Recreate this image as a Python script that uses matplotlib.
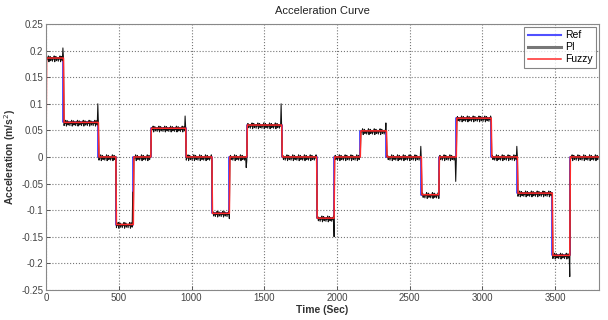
import numpy as np
import matplotlib
matplotlib.use("Agg")
import matplotlib.pyplot as plt

# Reference acceleration profile: step start times (s) and levels (m/s^2)
step_times = [0, 120, 360, 480, 600, 720, 960, 1140, 1260, 1380, 1620, 1860,
              1980, 2160, 2340, 2580, 2700, 2820, 3060, 3240, 3480, 3600]
step_levels = [0.186, 0.065, 0.0, -0.127, 0.0, 0.054, 0.0, -0.106, 0.0, 0.060, 0.0, -0.115,
               0.0, 0.049, 0.0, -0.071, 0.0, 0.073, 0.0, -0.068, -0.185, 0.0]
t_end = 3800

pi_ripple = [0.0, -0.006, 0.001, -0.002, 0.004, -0.007, 0.0, 0.003, -0.005, 0.001]
spike_times = [118, 358, 598, 958, 1262, 1376, 1618, 1982, 2338, 2576, 2818, 3236, 3602]
spike_values = [0.205, 0.100, -0.066, 0.077, -0.116, -0.020, 0.100, -0.150, 0.064, 0.020, -0.046, 0.020, -0.225]

pi_lag = 4
fuzzy_lag = 2

t = np.arange(0, t_end + 1, 4)


def level_at(times):
    idx = np.searchsorted(step_times, times, side="right") - 1
    return np.asarray(step_levels)[np.clip(idx, 0, None)]


# reference as a proper step line
ref_x = np.repeat(step_times + [t_end], 2)[1:-1]
ref_y = np.repeat(step_levels, 2)

pi_y = level_at(t - pi_lag) + np.resize(pi_ripple, len(t))
for st, sv in zip(spike_times, spike_values):
    pi_y[np.argmin(np.abs(t - st))] = sv

fuzzy_y = level_at(t - fuzzy_lag)
fuzzy_y[0] = 0.0

plt.rcParams["font.family"] = ["Liberation Sans", "DejaVu Sans"]

fig = plt.figure(figsize=(6.08, 3.2), dpi=100)
ax = fig.add_axes([0.0757, 0.094, 0.9093, 0.831])

ax.plot(ref_x, ref_y, color="#1f1fff", linewidth=1.1, label="Ref")
ax.plot(t, pi_y, color="#111111", linewidth=0.75, label="PI")
ax.plot(t, fuzzy_y, color="#ff2a2a", linewidth=1.1, label="Fuzzy")

ax.set_xlim(0, t_end)
ax.set_ylim(-0.25, 0.25)
ax.set_xticks([0, 500, 1000, 1500, 2000, 2500, 3000, 3500])
y_ticks = [-0.25, -0.2, -0.15, -0.1, -0.05, 0, 0.05, 0.1, 0.15, 0.2, 0.25]
y_labels = ["-0.25", "-0.2", "-0.15", "-0.1", "-0.05", "0", "0.05", "0.1", "0.15", "0.2", "0.25"]
ax.set_yticks(y_ticks)
ax.set_yticklabels(y_labels)
ax.tick_params(direction="in", labelsize=7, colors="#444444", length=3, width=0.6, pad=2)

ax.grid(True, linestyle=":", color="#777777", linewidth=0.8)
for s in ax.spines.values():
    s.set_color("#888888")
    s.set_linewidth(0.8)

ax.set_title("Acceleration Curve", fontsize=8, color="#222222", pad=7)
ax.set_xlabel("Time (Sec)", fontsize=7.5, color="#333333", fontweight="bold", labelpad=2)
ax.set_ylabel("Acceleration (m/s$^2$)", fontsize=7.5, color="#333333", fontweight="bold", labelpad=2)

leg = ax.legend(loc="upper right", fontsize=7.5, handlelength=3.2, frameon=True, fancybox=False,
                borderpad=0.3, labelspacing=0.2, handletextpad=0.4, borderaxespad=0.3)
leg.get_frame().set_edgecolor("#666666")
leg.get_frame().set_linewidth(0.8)
leg.get_lines()[0].set_color("#5050ff")
leg.get_lines()[0].set_linewidth(1.5)
leg.get_lines()[1].set_color("#777777")
leg.get_lines()[1].set_linewidth(2.2)

fig.savefig("out.png", dpi=100)
